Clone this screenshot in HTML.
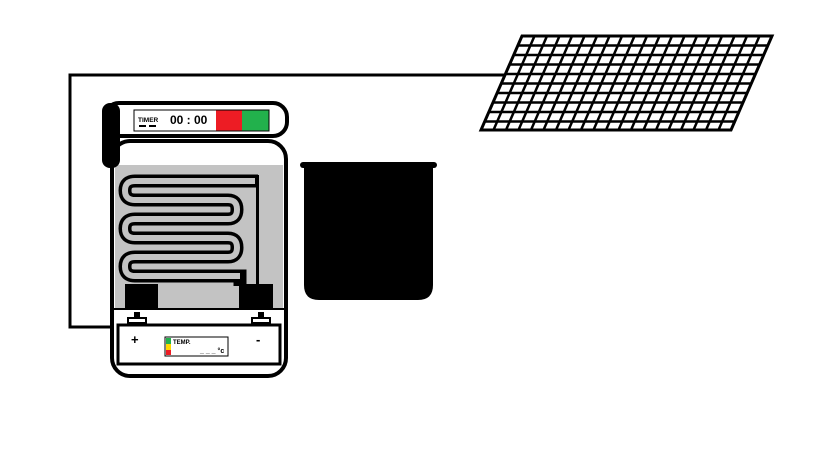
<!DOCTYPE html>
<html><head><meta charset="utf-8"><style>html,body{margin:0;padding:0;background:#fff}svg{display:block}</style></head><body>
<svg width="819" height="460" viewBox="0 0 819 460" xmlns="http://www.w3.org/2000/svg" font-family="Liberation Sans, sans-serif">
<rect width="819" height="460" fill="#fff"/>
<polyline points="506,75 70,75 70,327 118,327" fill="none" stroke="#000" stroke-width="3"/>
<g id="grid">
<polygon points="522,36 772,36 731,130 481,130" fill="#fff" stroke="#000" stroke-width="3"/>
<g stroke="#000" stroke-width="2.5">
<line x1="518" y1="45.5" x2="768" y2="45.5"/>
<line x1="514" y1="55" x2="764" y2="55"/>
<line x1="510" y1="64.5" x2="760" y2="64.5"/>
<line x1="506" y1="74" x2="756" y2="74"/>
<line x1="502" y1="83.5" x2="752" y2="83.5"/>
<line x1="497" y1="93" x2="747" y2="93"/>
<line x1="493" y1="102.5" x2="743" y2="102.5"/>
<line x1="489" y1="112" x2="739" y2="112"/>
<line x1="485" y1="121.5" x2="735" y2="121.5"/>
</g>
<g stroke="#000" stroke-width="2.5">
<line x1="534.5" y1="36" x2="493.5" y2="130"/><line x1="547" y1="36" x2="506" y2="130"/>
<line x1="559.5" y1="36" x2="518.5" y2="130"/><line x1="572" y1="36" x2="531" y2="130"/>
<line x1="584.5" y1="36" x2="543.5" y2="130"/><line x1="597" y1="36" x2="556" y2="130"/>
<line x1="609.5" y1="36" x2="568.5" y2="130"/><line x1="622" y1="36" x2="581" y2="130"/>
<line x1="634.5" y1="36" x2="593.5" y2="130"/><line x1="647" y1="36" x2="606" y2="130"/>
<line x1="659.5" y1="36" x2="618.5" y2="130"/><line x1="672" y1="36" x2="631" y2="130"/>
<line x1="684.5" y1="36" x2="643.5" y2="130"/><line x1="697" y1="36" x2="656" y2="130"/>
<line x1="709.5" y1="36" x2="668.5" y2="130"/><line x1="722" y1="36" x2="681" y2="130"/>
<line x1="734.5" y1="36" x2="693.5" y2="130"/><line x1="747" y1="36" x2="706" y2="130"/>
<line x1="759.5" y1="36" x2="718.5" y2="130"/>
</g>
</g>
<rect x="112" y="141" width="174" height="235" rx="18" fill="#fff" stroke="#000" stroke-width="4"/>
<rect x="115" y="165" width="168" height="143" fill="#c3c3c3"/>
<rect x="256" y="175" width="3" height="111" fill="#000"/>
<path d="M258,181 L135,181 Q125,181 125,190.5 Q125,200 135,200 L228,200 Q237,200 237,209.5 Q237,219 228,219 L135,219 Q125,219 125,228.5 Q125,238 135,238 L228,238 Q237,238 237,247.5 Q237,257 228,257 L135,257 Q125,257 125,266.5 Q125,276 135,276 L240,276 L240,286" fill="none" stroke="#000" stroke-width="13"/>
<path d="M255,181 L135,181 Q125,181 125,190.5 Q125,200 135,200 L228,200 Q237,200 237,209.5 Q237,219 228,219 L135,219 Q125,219 125,228.5 Q125,238 135,238 L228,238 Q237,238 237,247.5 Q237,257 228,257 L135,257 Q125,257 125,266.5 Q125,276 135,276 L240,276" fill="none" stroke="#c3c3c3" stroke-width="6"/>
<rect x="246" y="178" width="9" height="6" fill="#c3c3c3"/>
<rect x="125" y="284" width="33" height="24" fill="#000"/>
<rect x="239" y="284" width="34" height="24" fill="#000"/>
<line x1="113" y1="309" x2="285" y2="309" stroke="#000" stroke-width="2"/>
<rect x="134" y="312" width="6" height="6" fill="#000"/>
<rect x="128" y="318" width="18" height="5" fill="#fff" stroke="#000" stroke-width="2"/>
<rect x="258" y="312" width="6" height="6" fill="#000"/>
<rect x="252" y="318" width="18" height="5" fill="#fff" stroke="#000" stroke-width="2"/>
<rect x="118" y="325" width="162" height="39" fill="#fff" stroke="#000" stroke-width="3"/>
<text x="131" y="344" font-size="13" font-weight="bold">+</text>
<text x="256" y="344" font-size="13" font-weight="bold">-</text>
<rect x="165" y="337" width="63" height="19" fill="#fff" stroke="#000" stroke-width="1"/>
<rect x="166" y="338" width="5" height="6" fill="#22b14c"/>
<rect x="166" y="344" width="5" height="6" fill="#ffd800"/>
<rect x="166" y="350" width="5" height="5" fill="#ed1c24"/>
<text x="173" y="344" font-size="6" font-weight="bold">TEMP.</text>
<text x="200" y="353" font-size="7" font-weight="bold">_ _ _ °c</text>
<rect x="105" y="103" width="182" height="33" rx="14" fill="#fff" stroke="#000" stroke-width="4"/>
<rect x="216" y="110" width="26" height="21" fill="#ed1c24"/>
<rect x="242" y="110" width="27" height="21" fill="#22b14c"/>
<rect x="134" y="110" width="135" height="21" fill="none" stroke="#000" stroke-width="1"/>
<text x="138" y="122" font-size="6.5" font-weight="bold">TIMER</text>
<rect x="139" y="125" width="7" height="2" fill="#000"/><rect x="149" y="125" width="7" height="2" fill="#000"/>
<text x="170" y="124" font-size="12" font-weight="bold">00 : 00</text>
<rect x="102" y="103" width="18" height="65" rx="8" fill="#000"/>
<path d="M304,165 L433,165 L433,285 Q433,300 418,300 L319,300 Q304,300 304,285 Z" fill="#000"/>
<rect x="300" y="162" width="137" height="6" rx="3" fill="#000"/>
</svg>
</body></html>
